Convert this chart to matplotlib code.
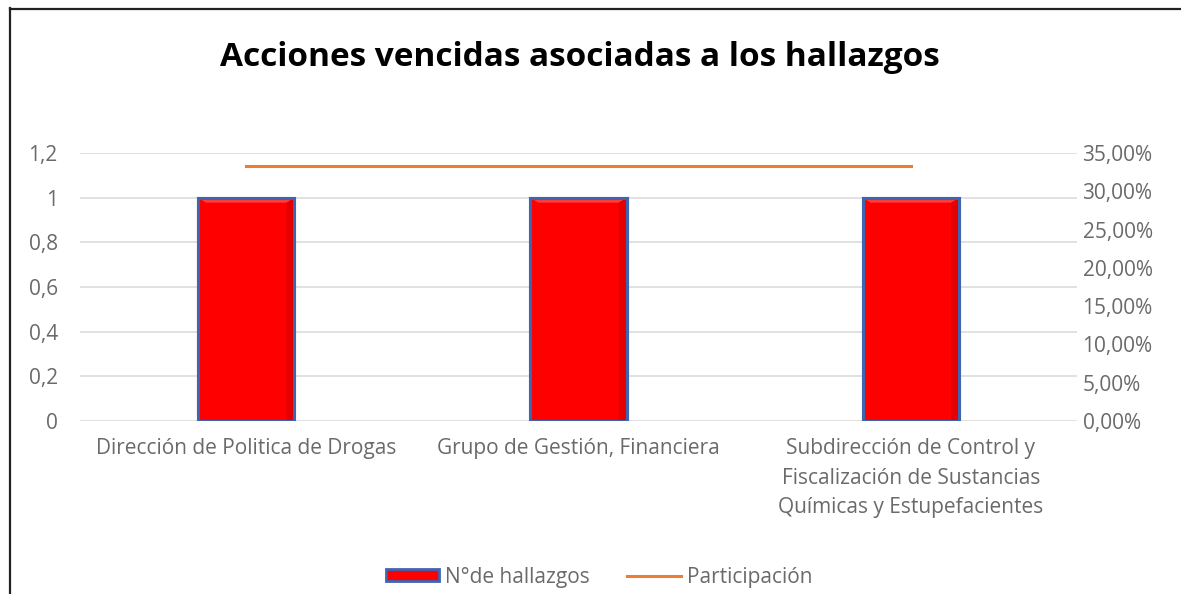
import matplotlib
matplotlib.use("Agg")
import matplotlib.pyplot as plt
from matplotlib.lines import Line2D
from matplotlib.patches import Patch, Polygon
from matplotlib.ticker import FuncFormatter

categories = [
    "Dirección de Politica de Drogas",
    "Grupo de Gestión, Financiera",
    "Subdirección de Control y\nFiscalización de Sustancias\nQuímicas y Estupefacientes",
]
hallazgos = [1, 1, 1]
participacion = [0.3333, 0.3333, 0.3333]
left_ticks = [0, 0.2, 0.4, 0.6, 0.8, 1, 1.2]
right_ticks = [0, 0.05, 0.10, 0.15, 0.20, 0.25, 0.30, 0.35]

GREY = "#6a6a6a"
plt.rcParams["font.family"] = ["Open Sans", "DejaVu Sans"]

W, H = 1181, 594
fig = plt.figure(figsize=(W / 100, H / 100), dpi=100)
ax = fig.add_axes([80 / W, 1 - 421 / H, 997 / W, 268 / H])
ax2 = ax.twinx()

x = list(range(len(categories)))
bars = ax.bar(x, hallazgos, width=0.29, color="#FF0000", edgecolor="#3F64B0",
              linewidth=2.2, zorder=3)
ax2.plot(x, participacion, color="#ED7D31", linewidth=2.2, zorder=4)

ax.set_xlim(-0.5, 2.5)
ax.set_ylim(0, 1.2)
ax2.set_ylim(0, 0.35)

# light bevel on each bar, sized in pixels from the bar's own geometry
bx, by = 8 / 332.3, 5 / 223.3
for b in bars:
    x0, y0, w, h = b.get_x(), b.get_y(), b.get_width(), b.get_height()
    x1, y1 = x0 + w, y0 + h
    ax.add_patch(Polygon([(x1, y0), (x1, y1), (x1 - bx, y1 - by), (x1 - bx, y0)],
                         closed=True, facecolor="#E40000", edgecolor="none", zorder=3.1))
    ax.add_patch(Polygon([(x0, y1), (x1, y1), (x1 - bx, y1 - by), (x0 + bx, y1 - by)],
                         closed=True, facecolor="#FF3C3C", edgecolor="none", zorder=3.1))
    ax.add_patch(Polygon([(x0, y0), (x1, y0), (x1, y1), (x0, y1)], closed=True,
                         facecolor="none", edgecolor="#3F64B0", linewidth=2.2, zorder=3.2))

ax.set_yticks(left_ticks)
ax.yaxis.set_major_formatter(FuncFormatter(lambda v, _: f"{v:g}".replace(".", ",")))
ax2.set_yticks(right_ticks)
ax2.yaxis.set_major_formatter(FuncFormatter(lambda v, _: f"{v * 100:.2f}%".replace(".", ",")))
ax.set_xticks(x)
ax.set_xticklabels(categories, va="top", linespacing=1.52)

ax.grid(axis="y", color="#D9D9D9", linewidth=1.1, zorder=0)
for a in (ax, ax2):
    for s in a.spines.values():
        s.set_visible(False)
    a.tick_params(length=0, labelsize=15, colors=GREY)
ax.tick_params(axis="y", pad=16)
ax2.tick_params(axis="y", pad=4)
ax.tick_params(axis="x", pad=12.5)

fig.text(580 / W, 1 - 57 / H, "Acciones vencidas asociadas a los hallazgos",
         ha="center", va="center", fontsize=24, fontweight="bold", color="black")

handles = [
    Patch(facecolor="#FF0000", edgecolor="#3F64B0", linewidth=2),
    Line2D([], [], color="#ED7D31", linewidth=2.2),
]
fig.legend(handles, ["N°de hallazgos", "Participación"], loc="center",
           bbox_to_anchor=(599 / W, 1 - 577 / H), ncol=2, frameon=False,
           fontsize=15, labelcolor=GREY, handlelength=2.55, handleheight=0.5,
           handletextpad=0.3, columnspacing=1.8)

# chart frame (only top and left edges visible in the crop)
fig.add_artist(Line2D([10 / W, 10 / W], [0, 1 - 8 / H], color="#222222",
                      linewidth=1.6, transform=fig.transFigure))
fig.add_artist(Line2D([10 / W, 1], [1 - 9 / H, 1 - 9 / H], color="#222222",
                      linewidth=1.6, transform=fig.transFigure))

fig.savefig("out.png", dpi=100)
